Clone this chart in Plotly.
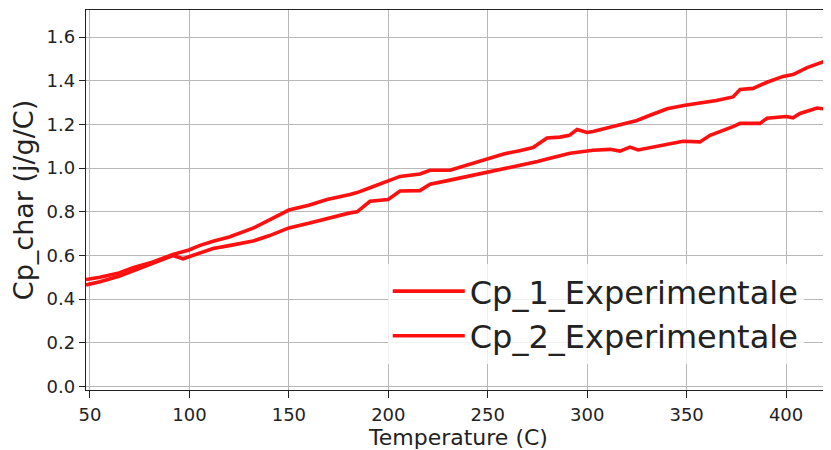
import plotly.graph_objects as go

# Series 1 (upper curve at high temperature)
temp_1 = [48.0, 55.0, 64.6, 72.0, 81.7, 91.7, 99.8, 105.0, 111.9, 120.0, 132.0, 140.0,
          150.0, 160.0, 169.2, 180.7, 184.3, 190.8, 199.9, 205.9, 215.9, 221.0, 231.0,
          240.0, 250.0, 258.0, 266.0, 272.8, 279.8, 286.3, 291.0, 294.9, 299.9, 302.9,
          315.0, 325.0, 331.6, 340.2, 349.2, 356.7, 365.0, 373.3, 376.9, 383.4, 390.4,
          398.5, 403.5, 410.6, 415.6, 422.6]
cp_1 = [0.49, 0.50, 0.52, 0.545, 0.57, 0.605, 0.625, 0.645, 0.665, 0.685, 0.725, 0.76,
        0.808, 0.83, 0.856, 0.879, 0.888, 0.91, 0.94, 0.962, 0.973, 0.99, 0.99,
        1.015, 1.046, 1.065, 1.08, 1.094, 1.138, 1.142, 1.15, 1.177, 1.163, 1.168,
        1.195, 1.218, 1.242, 1.272, 1.288, 1.298, 1.31, 1.326, 1.36, 1.365, 1.393,
        1.42, 1.428, 1.46, 1.478, 1.50]

# Series 2 (lower curve at high temperature)
temp_2 = [48.0, 55.0, 64.6, 72.0, 81.7, 91.7, 96.8, 99.8, 105.0, 111.9, 120.0, 132.0,
          140.0, 150.0, 160.0, 169.2, 180.7, 184.3, 188.0, 190.8, 199.9, 205.9, 215.9,
          221.0, 231.0, 240.0, 250.1, 258.0, 266.2, 275.0, 281.3, 291.4, 302.9, 311.5,
          316.5, 321.5, 325.6, 336.6, 348.2, 356.7, 361.8, 373.3, 376.9, 386.9, 390.4,
          400.0, 403.5, 407.0, 415.6, 422.6]
cp_2 = [0.465, 0.48, 0.505, 0.53, 0.565, 0.60, 0.585, 0.595, 0.61, 0.632, 0.645, 0.666,
        0.69, 0.726, 0.748, 0.77, 0.795, 0.80, 0.83, 0.848, 0.856, 0.895, 0.897,
        0.926, 0.945, 0.962, 0.982, 1.0, 1.015, 1.03, 1.045, 1.068, 1.082, 1.086,
        1.078, 1.096, 1.083, 1.104, 1.123, 1.12, 1.15, 1.19, 1.205, 1.205, 1.228,
        1.236, 1.23, 1.25, 1.275, 1.268]

series_names = ["Cp_1_Experimentale", "Cp_2_Experimentale"]
x_ticks = [50, 100, 150, 200, 250, 300, 350, 400]
y_ticks = [0.0, 0.2, 0.4, 0.6, 0.8, 1.0, 1.2, 1.4, 1.6]
y_tick_text = ["0.0", "0.2", "0.4", "0.6", "0.8", "1.0", "1.2", "1.4", "1.6"]

FONT = "DejaVu Sans"
TXT = "#222222"

fig = go.Figure()
fig.add_trace(go.Scatter(x=temp_1, y=cp_1, mode="lines", name=series_names[0],
                         line=dict(color="#ff1010", width=3.6), legendgroup="a"))
fig.add_trace(go.Scatter(x=temp_2, y=cp_2, mode="lines", name=series_names[1],
                         line=dict(color="#ff1010", width=3.6), legendgroup="b"))

# the page body adds an 8px offset, so margins compensate for it
fig.update_layout(
    width=831, height=450,
    margin=dict(l=78, r=8, t=2, b=68, autoexpand=False),
    paper_bgcolor="white", plot_bgcolor="white",
    font=dict(family=FONT, color=TXT, size=18),
    showlegend=True,
    legend=dict(
        x=0.405, y=0.332, xanchor="left", yanchor="top",
        bgcolor="rgba(255,255,255,0.8)", borderwidth=0,
        font=dict(family=FONT, size=32, color=TXT),
        tracegroupgap=17, itemwidth=72, traceorder="normal",
    ),
)
fig.update_xaxes(
    range=[48.0, 422.6], tickvals=x_ticks, automargin=False,
    showgrid=True, gridcolor="#b8b8b8", gridwidth=1,
    showline=True, linecolor="#222222", linewidth=1.3, mirror=True,
    ticks="outside", ticklen=7, tickcolor="#222222", tickwidth=1,
    ticklabelstandoff=1,
    tickfont=dict(size=18, family=FONT, color=TXT),
    zeroline=False,
    title=dict(text="Temperature (C)", font=dict(size=22, family=FONT, color=TXT), standoff=0),
)
fig.update_yaxes(
    range=[-0.016, 1.724], tickvals=y_ticks, ticktext=y_tick_text, automargin=False,
    showgrid=True, gridcolor="#b8b8b8", gridwidth=1,
    showline=True, linecolor="#222222", linewidth=1.3, mirror=False,
    ticks="outside", ticklen=6, tickcolor="#222222", tickwidth=1,
    tickfont=dict(size=18, family=FONT, color=TXT),
    zeroline=False,
    title=dict(text="Cp_char (j/g/C)", font=dict(size=27, family=FONT, color=TXT), standoff=6),
)

fig.write_html("out.html")
